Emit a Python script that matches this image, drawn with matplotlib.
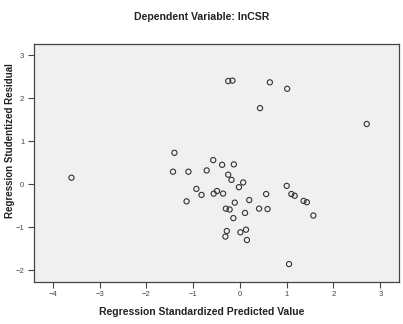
import matplotlib
matplotlib.use("Agg")
import matplotlib.pyplot as plt
from matplotlib import font_manager

# standardized predicted value / studentized residual
pred = [-0.25, -0.16, 0.64, 1.01, 0.43, 2.71, -3.60, -1.40, -1.43, -1.10,
        -0.71, -0.57, -0.38, -0.93, -0.82, -1.14, -0.56, -0.49, -0.36, -0.13,
        -0.25, -0.18, 0.07, -0.02, -0.11, 0.20, -0.30, -0.22, 0.11, -0.14,
        0.41, 0.59, 0.56, 1.00, 1.10, 1.17, 1.36, 1.43, 1.57, -0.28,
        -0.31, 0.13, 0.01, 0.15, 1.05]
resid = [2.40, 2.41, 2.37, 2.22, 1.77, 1.40, 0.15, 0.73, 0.29, 0.29,
         0.32, 0.56, 0.45, -0.11, -0.25, -0.40, -0.22, -0.16, -0.22, 0.46,
         0.22, 0.10, 0.04, -0.07, -0.43, -0.37, -0.57, -0.59, -0.67, -0.79,
         -0.57, -0.58, -0.23, -0.04, -0.23, -0.27, -0.39, -0.42, -0.73, -1.09,
         -1.22, -1.06, -1.12, -1.30, -1.86]
xticks = [-4, -3, -2, -1, 0, 1, 2, 3]
yticks = [-2, -1, 0, 1, 2, 3]

names = {f.name for f in font_manager.fontManager.ttflist}
narrow = "Liberation Sans Narrow" if "Liberation Sans Narrow" in names else "Liberation Sans"

fig = plt.figure(figsize=(4.03, 3.24), dpi=100)
ax = fig.add_axes([0.0844, 0.1306, 0.9057, 0.7333])
ax.set_facecolor("#f0f0f0")

ax.scatter(pred, resid, s=14, facecolors="none", edgecolors="#333333", linewidths=0.8)

ax.set_xlim(-4.40, 3.40)
ax.set_ylim(-2.27, 3.26)
ax.set_xticks(xticks)
ax.set_yticks(yticks)
ax.tick_params(direction="out", length=4, width=0.8, color="#444444",
               labelsize=5.5, labelcolor="#444444", pad=3)
for lab in ax.get_xticklabels() + ax.get_yticklabels():
    lab.set_family(narrow)
for sp in ax.spines.values():
    sp.set_color("#444444")
    sp.set_linewidth(0.9)

fig.text(0.5, 0.947, "Dependent Variable: lnCSR", ha="center", va="center",
         fontsize=7.6, fontweight="bold", family=narrow, color="#222222")
fig.text(0.5, 1 - 312 / 324, "Regression Standardized Predicted Value",
         ha="center", va="center", fontsize=7.5, fontweight="bold",
         family=narrow, color="#222222")
fig.text(10 / 403, 1 - 141 / 324, "Regression Studentized Residual",
         ha="center", va="center", rotation=90, fontsize=7.0,
         fontweight="bold", family="Liberation Sans", color="#222222")

fig.savefig("out.png", dpi=100)
